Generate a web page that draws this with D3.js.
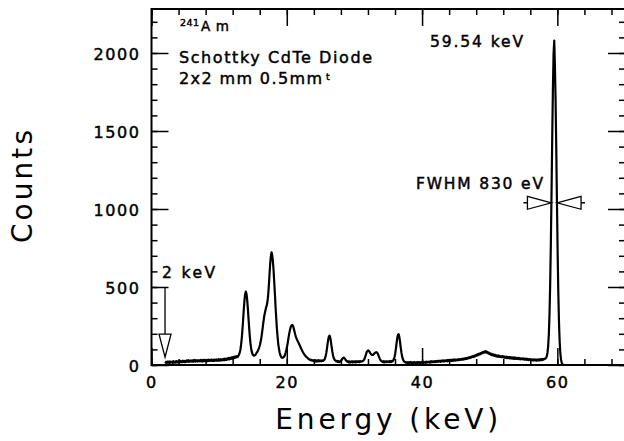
<!DOCTYPE html>
<html>
<head>
<meta charset="utf-8">
<script src="https://cdn.jsdelivr.net/npm/d3@7"></script>
<style>
  html, body { margin: 0; padding: 0; background: #fff; }
  svg { display: block; }
  text { font-family: "DejaVu Sans", "Liberation Sans", sans-serif; fill: #000; }
</style>
</head>
<body>
<svg id="chart" width="624" height="441"></svg>
<script>
// 241Am spectrum, Schottky CdTe diode: counts per 0.1 keV channel
const firstChannelKeV = 2.04;
const channelWidthKeV = 0.1;
const counts = [
  10, 20, 13, 22, 15, 21, 12, 23, 16, 20,
  21, 14, 24, 16, 22, 15, 25, 17, 23, 16,
  24, 17, 27, 18, 25, 19, 28, 20, 26, 18,
  27, 21, 29, 22, 31, 20, 28, 23, 30, 22,
  29, 21, 31, 23, 32, 22, 29, 31, 22, 30,
  30, 23, 32, 24, 31, 22, 33, 25, 32, 24,
  32, 24, 33, 25, 34, 26, 32, 27, 35, 26,
  33, 26, 35, 27, 31, 36, 28, 34, 27, 37,
  35, 28, 38, 30, 36, 31, 39, 30, 40, 33,
  41, 33, 43, 36, 45, 37, 46, 39, 48, 41,
  50, 43, 53, 46, 55, 49, 57, 52, 60, 67,
  79, 98, 128, 170, 223, 287, 353, 411, 453, 470,
  458, 421, 365, 300, 236, 179, 135, 103, 82, 69,
  63, 60, 62, 64, 70, 78, 84, 92, 103, 115,
  130, 150, 175, 205, 240, 275, 305, 330, 350, 368,
  382, 405, 445, 505, 575, 645, 695, 722, 706, 668,
  612, 535, 458, 373, 301, 231, 181, 134, 106, 80,
  64, 54, 48, 46, 47, 50, 56, 66, 80, 98,
  118, 142, 170, 196, 219, 237, 250, 255, 257, 248,
  233, 215, 197, 182, 170, 160, 150, 142, 133, 124,
  114, 104, 95, 86, 78, 71, 65, 59, 54, 50,
  47, 41, 40, 34, 35, 30, 33, 28, 31, 26,
  24, 31, 23, 30, 22, 29, 31, 23, 30, 25,
  29, 24, 30, 26, 31, 33, 41, 55, 77, 106,
  139, 166, 184, 188, 172, 145, 112, 84, 61, 45,
  36, 29, 28, 23, 26, 20, 25, 19, 24, 22,
  28, 34, 41, 46, 47, 43, 37, 30, 25, 22,
  24, 17, 23, 16, 22, 19, 24, 17, 23, 18,
  23, 17, 24, 18, 23, 19, 25, 18, 24, 21,
  24, 23, 26, 29, 35, 45, 58, 73, 86, 90,
  93, 90, 84, 76, 70, 66, 64, 65, 69, 74,
  78, 81, 82, 80, 74, 64, 52, 41, 32, 27,
  24, 21, 18, 24, 17, 23, 19, 24, 18, 23,
  20, 25, 18, 24, 20, 26, 23, 29, 38, 53,
  76, 108, 143, 174, 194, 197, 180, 149, 113, 82,
  57, 40, 30, 23, 21, 16, 19, 14, 18, 13,
  18, 13, 19, 14, 18, 12, 17, 13, 19, 14,
  17, 12, 18, 13, 19, 14, 18, 12, 19, 15,
  18, 13, 19, 15, 20, 14, 21, 16, 20, 17,
  22, 16, 23, 17, 24, 18, 23, 19, 25, 19,
  25, 20, 27, 21, 26, 22, 28, 21, 28, 23,
  29, 23, 30, 24, 29, 25, 31, 24, 32, 26,
  32, 26, 33, 27, 34, 27, 35, 28, 36, 29,
  35, 30, 36, 31, 37, 32, 38, 33, 39, 34,
  40, 35, 42, 37, 44, 39, 46, 41, 48, 44,
  51, 46, 53, 49, 56, 51, 59, 54, 61, 57,
  66, 61, 69, 64, 72, 68, 76, 72, 80, 76,
  84, 79, 87, 81, 88, 80, 84, 76, 80, 71,
  75, 66, 72, 63, 69, 60, 66, 58, 64, 56,
  61, 54, 62, 53, 59, 52, 57, 50, 56, 50,
  55, 48, 54, 46, 53, 45, 52, 44, 51, 43,
  50, 42, 49, 41, 49, 40, 48, 39, 47, 40,
  46, 39, 45, 38, 44, 37, 43, 38, 42, 36,
  42, 35, 41, 34, 40, 33, 39, 32, 38, 33,
  37, 31, 36, 30, 35, 29, 36, 30, 35, 28,
  35, 29, 36, 30, 37, 31, 38, 32, 39, 34,
  38, 40, 41, 46, 57, 79, 120, 198, 326, 519,
  784, 1104, 1450, 1764, 1992, 2080, 1913, 1692, 1384, 1043,
  727, 466, 276, 151, 75, 36, 15, 6, 2, 1,
  0, 0, 0, 0, 0, 0, 0, 0, 0, 0,
  0, 0, 0, 0, 0, 0, 0, 0, 0, 0,
  0, 0, 0, 0, 0, 0, 0, 0, 0, 0,
  0, 0, 0, 0, 0, 0, 0, 0, 0, 0,
  0, 0, 0, 0, 0, 0, 0, 0, 0, 0,
  0, 0, 0, 0, 0, 0, 0, 0, 0, 0,
  0, 0, 0, 0, 0, 0, 0, 0, 0, 0,
  0, 0, 0, 0, 0, 0, 0, 0, 0, 0,
  0, 0, 0, 0, 0, 0, 0, 0, 0, 0
];

// Axis extents and ticks
const energyDomain = [0, 70];
const countsDomain = [0, 2282];
const energyMajorTicks = [0, 20, 40, 60];
const energyTickLabels = ["0", "20", "40", "60"];
const energyMinorStep = 4;
const countsMajorTicks = [0, 500, 1000, 1500, 2000];
const countsTickLabels = ["0", "500", "1000", "1500", "2000"];
const countsMinorStep = 100;

// Annotated quantities
const peakEnergyKeV = 59.54;
const fwhmKeV = 0.83;
const halfMaxCounts = 1040;
const thresholdKeV = 2;
const thresholdArrowFrom = 500;
const thresholdArrowTo = 50;

const svg = d3.select("#chart");
const x = d3.scaleLinear().domain(energyDomain).range([151.5, 625]);
const y = d3.scaleLinear().domain(countsDomain).range([365, 9]);
const [x0, x1] = x.range();
const [yb, yt] = y.range();

const majorLen = 17, minorLen = 6;
const energyMinor = d3.range(energyDomain[0], energyDomain[1] + 1e-9, energyMinorStep);
const countsMinor = d3.range(countsDomain[0], countsDomain[1], countsMinorStep);

function styleAxis(g) {
  g.select(".domain").remove();
  g.selectAll(".tick line").attr("stroke", "#000").attr("stroke-width", 1.5);
  g.selectAll("text")
    .attr("font-family", "'DejaVu Sans', sans-serif")
    .attr("font-size", 16)
    .attr("letter-spacing", "1.6px")
    .attr("fill", "#000")
    .attr("stroke", "#000")
    .attr("stroke-width", 0.45);
}

// Bottom axis: labelled majors plus minors, ticks pointing inward
svg.append("g").attr("transform", `translate(0,${yb})`)
  .call(d3.axisBottom(x).tickValues(energyMinor).tickSizeInner(-minorLen).tickSizeOuter(0).tickFormat(""))
  .call(styleAxis);
svg.append("g").attr("transform", `translate(0,${yb})`)
  .call(d3.axisBottom(x).tickValues(energyMajorTicks).tickSizeInner(-majorLen).tickSizeOuter(0)
    .tickPadding(12).tickFormat((d, i) => energyTickLabels[i]))
  .call(styleAxis);

// Top axis
svg.append("g").attr("transform", `translate(0,${yt})`)
  .call(d3.axisTop(x).tickValues(energyMinor).tickSizeInner(-minorLen).tickSizeOuter(0).tickFormat(""))
  .call(styleAxis);
svg.append("g").attr("transform", `translate(0,${yt})`)
  .call(d3.axisTop(x).tickValues(energyMajorTicks).tickSizeInner(-majorLen).tickSizeOuter(0).tickFormat(""))
  .call(styleAxis);

// Left axis
svg.append("g").attr("transform", `translate(${x0},0)`)
  .call(d3.axisLeft(y).tickValues(countsMinor).tickSizeInner(-minorLen).tickSizeOuter(0).tickFormat(""))
  .call(styleAxis);
const leftMajor = svg.append("g").attr("transform", `translate(${x0},0)`)
  .call(d3.axisLeft(y).tickValues(countsMajorTicks).tickSizeInner(-majorLen).tickSizeOuter(0)
    .tickPadding(11).tickFormat((d, i) => countsTickLabels[i]))
  .call(styleAxis);
leftMajor.selectAll("text").attr("dy", "0.42em");

// Right axis
svg.append("g").attr("transform", `translate(${x1},0)`)
  .call(d3.axisRight(y).tickValues(countsMinor).tickSizeInner(-minorLen).tickSizeOuter(0).tickFormat(""))
  .call(styleAxis);
svg.append("g").attr("transform", `translate(${x1},0)`)
  .call(d3.axisRight(y).tickValues(countsMajorTicks).tickSizeInner(-majorLen).tickSizeOuter(0).tickFormat(""))
  .call(styleAxis);

// Frame
svg.append("rect")
  .attr("x", x0).attr("y", yt).attr("width", x1 - x0).attr("height", yb - yt)
  .attr("fill", "none").attr("stroke", "#000").attr("stroke-width", 2);

// Spectrum
svg.append("clipPath").attr("id", "plotClip")
  .append("rect").attr("x", x0).attr("y", yt).attr("width", x1 - x0).attr("height", yb - yt);

const spectrumLine = d3.line()
  .x((d, i) => x(firstChannelKeV + i * channelWidthKeV))
  .y(d => y(d));

svg.append("path")
  .datum(counts)
  .attr("clip-path", "url(#plotClip)")
  .attr("d", spectrumLine)
  .attr("fill", "none")
  .attr("stroke", "#000")
  .attr("stroke-width", 2.2)
  .attr("stroke-linejoin", "round");

// FWHM markers: hollow arrowheads pointing at the half-maximum edges
const headLen = 24, headHalf = 6.5, tailLen = 4;
const yHalf = y(halfMaxCounts);
const leftTip = x(peakEnergyKeV - fwhmKeV / 2);
const rightTip = x(peakEnergyKeV + fwhmKeV / 2);
const arrowStyle = sel => sel.attr("fill", "none").attr("stroke", "#000").attr("stroke-width", 1.3)
  .attr("stroke-linejoin", "miter");

svg.append("path").call(arrowStyle).attr("d",
  `M${leftTip - headLen - tailLen},${yHalf}H${leftTip - headLen}` +
  `M${leftTip},${yHalf}L${leftTip - headLen},${yHalf - headHalf}L${leftTip - headLen},${yHalf + headHalf}Z`);
svg.append("path").call(arrowStyle).attr("d",
  `M${rightTip + headLen + tailLen},${yHalf}H${rightTip + headLen}` +
  `M${rightTip},${yHalf}L${rightTip + headLen},${yHalf - headHalf}L${rightTip + headLen},${yHalf + headHalf}Z`);

// Threshold marker at 2 keV
const tx = x(thresholdKeV);
const tipY = y(thresholdArrowTo);
const vHead = 23, vHalf = 6;
svg.append("path").call(arrowStyle).attr("d",
  `M${tx},${y(thresholdArrowFrom)}V${tipY - vHead}` +
  `M${tx},${tipY}L${tx - vHalf},${tipY - vHead}L${tx + vHalf},${tipY - vHead}Z`);

// Annotations
function label(txt, px, py, size, len) {
  const t = svg.append("text").attr("x", px).attr("y", py).attr("font-size", size)
    .attr("stroke", "#000").attr("stroke-width", 0.45).text(txt);
  if (len) t.attr("textLength", len).attr("lengthAdjust", "spacing");
  return t;
}
label("241", 180, 26, 9.5, 19);
label("Am", 201, 30.5, 13.5, 28);
label("Schottky CdTe Diode", 179, 63, 16, 193);
label("2x2 mm 0.5mm", 179, 84, 16, 143);
label("t", 326, 79.5, 9.5);
label("59.54 keV", 430, 46.7, 15.5, 93);
label("FWHM 830 eV", 416, 189.3, 15.5, 127);
label("2 keV", 162, 278.3, 15.5, 53);

// Axis titles
svg.append("text")
  .attr("x", (x0 + 623) / 2 - 112).attr("y", 428.5)
  .attr("font-size", 28).attr("textLength", 223).attr("lengthAdjust", "spacing")
  .text("Energy (keV)");
svg.append("text")
  .attr("transform", `translate(31.5,${(yt + yb) / 2 + 56}) rotate(-90)`)
  .attr("font-size", 28).attr("textLength", 113).attr("lengthAdjust", "spacing")
  .text("Counts");
</script>
</body>
</html>
